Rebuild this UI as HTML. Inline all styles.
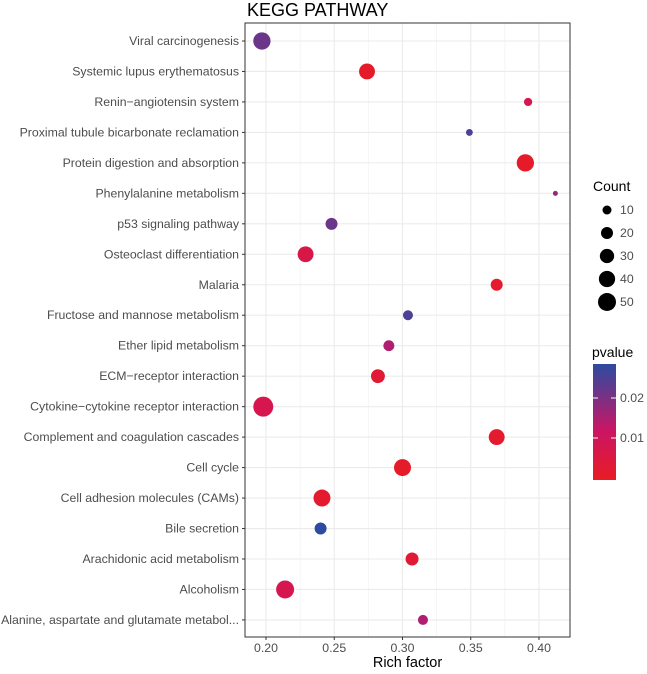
<!DOCTYPE html>
<html><head><meta charset="utf-8"><style>
body{margin:0;background:#fff;}
svg{display:block;font-family:"Liberation Sans",sans-serif;}
</style></head><body>
<svg id="c" width="647" height="674"></svg>
<script>
const categories=["Viral carcinogenesis","Systemic lupus erythematosus","Renin\u2212angiotensin system","Proximal tubule bicarbonate reclamation","Protein digestion and absorption","Phenylalanine metabolism","p53 signaling pathway","Osteoclast differentiation","Malaria","Fructose and mannose metabolism","Ether lipid metabolism","ECM\u2212receptor interaction","Cytokine\u2212cytokine receptor interaction","Complement and coagulation cascades","Cell cycle","Cell adhesion molecules (CAMs)","Bile secretion","Arachidonic acid metabolism","Alcoholism","Alanine, aspartate and glutamate metabol..."];
const richFactor=[0.197,0.274,0.392,0.349,0.390,0.412,0.248,0.229,0.369,0.304,0.290,0.282,0.198,0.369,0.300,0.241,0.240,0.307,0.214,0.315];
const counts=[46,38,8,5,46,2,20,38,20,13,16,28,63,38,44,44,20,24,50,13];
const pvalues=[0.022,0.001,0.008,0.025,0.001,0.018,0.022,0.007,0.002,0.025,0.015,0.003,0.008,0.002,0.001,0.002,0.028,0.003,0.008,0.015];
const xTicks=[0.20,0.25,0.30,0.35,0.40];
const sizeLegend=[10,20,30,40,50];
const pTicks=[0.01,0.02];

const NS="http://www.w3.org/2000/svg";
const svg=document.getElementById('c');
function mk(t,a,p){const e=document.createElementNS(NS,t);for(const k in a)e.setAttribute(k,a[k]);(p||svg).appendChild(e);return e;}
const L=245,R=570,T=23,B=637;
const x=v=>266+(v-0.2)*1365;
const y=i=>41+i*30.47;
const rad=c=>1.15*Math.sqrt(c)+0.86;
function col(p){
 const s=[[0,[232,28,36]],[0.012,[205,20,100]],[0.028,[45,75,160]]];
 p=Math.max(0,Math.min(0.028,p));
 for(let i=0;i<2;i++){const a=s[i],b=s[i+1];if(p<=b[0]){const t=(p-a[0])/(b[0]-a[0]);return 'rgb('+a[1].map((v,j)=>Math.round(v+(b[1][j]-v)*t)).join(',')+')';}}
}
const py=p=>438-(p-0.01)*4000;

const title=mk('text',{x:247,y:16,'font-size':18,fill:'#000'});title.textContent='KEGG PATHWAY';


for(let v=0.175;v<=0.425;v+=0.05){if(x(v)>L&&x(v)<R){const g=mk('line',{x1:x(v),x2:x(v),y1:T,y2:B,stroke:'#f0f0f0','stroke-width':0.6});}}
xTicks.forEach(v=>{const g=mk('line',{x1:x(v),x2:x(v),y1:T,y2:B,stroke:'#ebebeb','stroke-width':1.1});
 mk('line',{x1:x(v),x2:x(v),y1:B,y2:B+3,stroke:'#333'});
 const t=mk('text',{x:x(v),y:B+15,'font-size':12.3,fill:'#4d4d4d','text-anchor':'middle'});t.textContent=v.toFixed(2);
 });
categories.forEach((c,i)=>{const g=mk('line',{x1:L,x2:R,y1:y(i),y2:y(i),stroke:'#ebebeb','stroke-width':1.1});
 mk('line',{x1:L-3,x2:L,y1:y(i),y2:y(i),stroke:'#333'});
 const t=mk('text',{x:L-6,y:y(i)+4,'font-size':12.3,fill:'#4d4d4d','text-anchor':'end'});t.textContent=c;
 });
categories.forEach((c,i)=>{const d=mk('circle',{cx:x(richFactor[i]),cy:y(i),r:rad(counts[i]),fill:col(pvalues[i])});
 });
const br=mk('rect',{x:L,y:T,width:R-L,height:B-T,fill:'none',stroke:'#333','stroke-width':1});

const xl=mk('text',{x:(L+R)/2,y:667,'font-size':14.5,fill:'#000','text-anchor':'middle'});xl.textContent='Rich factor';

const ct=mk('text',{x:593,y:191,'font-size':14,fill:'#000'});ct.textContent='Count';

sizeLegend.forEach((c,i)=>{const cy=210+i*23;const d=mk('circle',{cx:607,cy:cy,r:rad(c),fill:'#000'});
 
 const t=mk('text',{x:620,y:cy+4,'font-size':12.3,fill:'#4d4d4d'});t.textContent=c;
 });
const pt=mk('text',{x:592,y:357,'font-size':14,fill:'#000'});pt.textContent='pvalue';

const defs=mk('defs',{});const lg=mk('linearGradient',{id:'g',x1:0,y1:1,x2:0,y2:0},defs);
[0,0.2,0.43,0.6,0.8,1].forEach(f=>mk('stop',{offset:f,'stop-color':col(f*0.0285)},lg));
const cb=mk('rect',{x:593,y:364,width:23,height:116,fill:'url(#g)'});

pTicks.forEach(p=>{mk('line',{x1:593,x2:598,y1:py(p),y2:py(p),stroke:'#fff'});mk('line',{x1:611,x2:616,y1:py(p),y2:py(p),stroke:'#fff'});
 const t=mk('text',{x:620,y:py(p)+4,'font-size':12.3,fill:'#4d4d4d'});t.textContent=p.toFixed(2);
 });
</script>
</body></html>
